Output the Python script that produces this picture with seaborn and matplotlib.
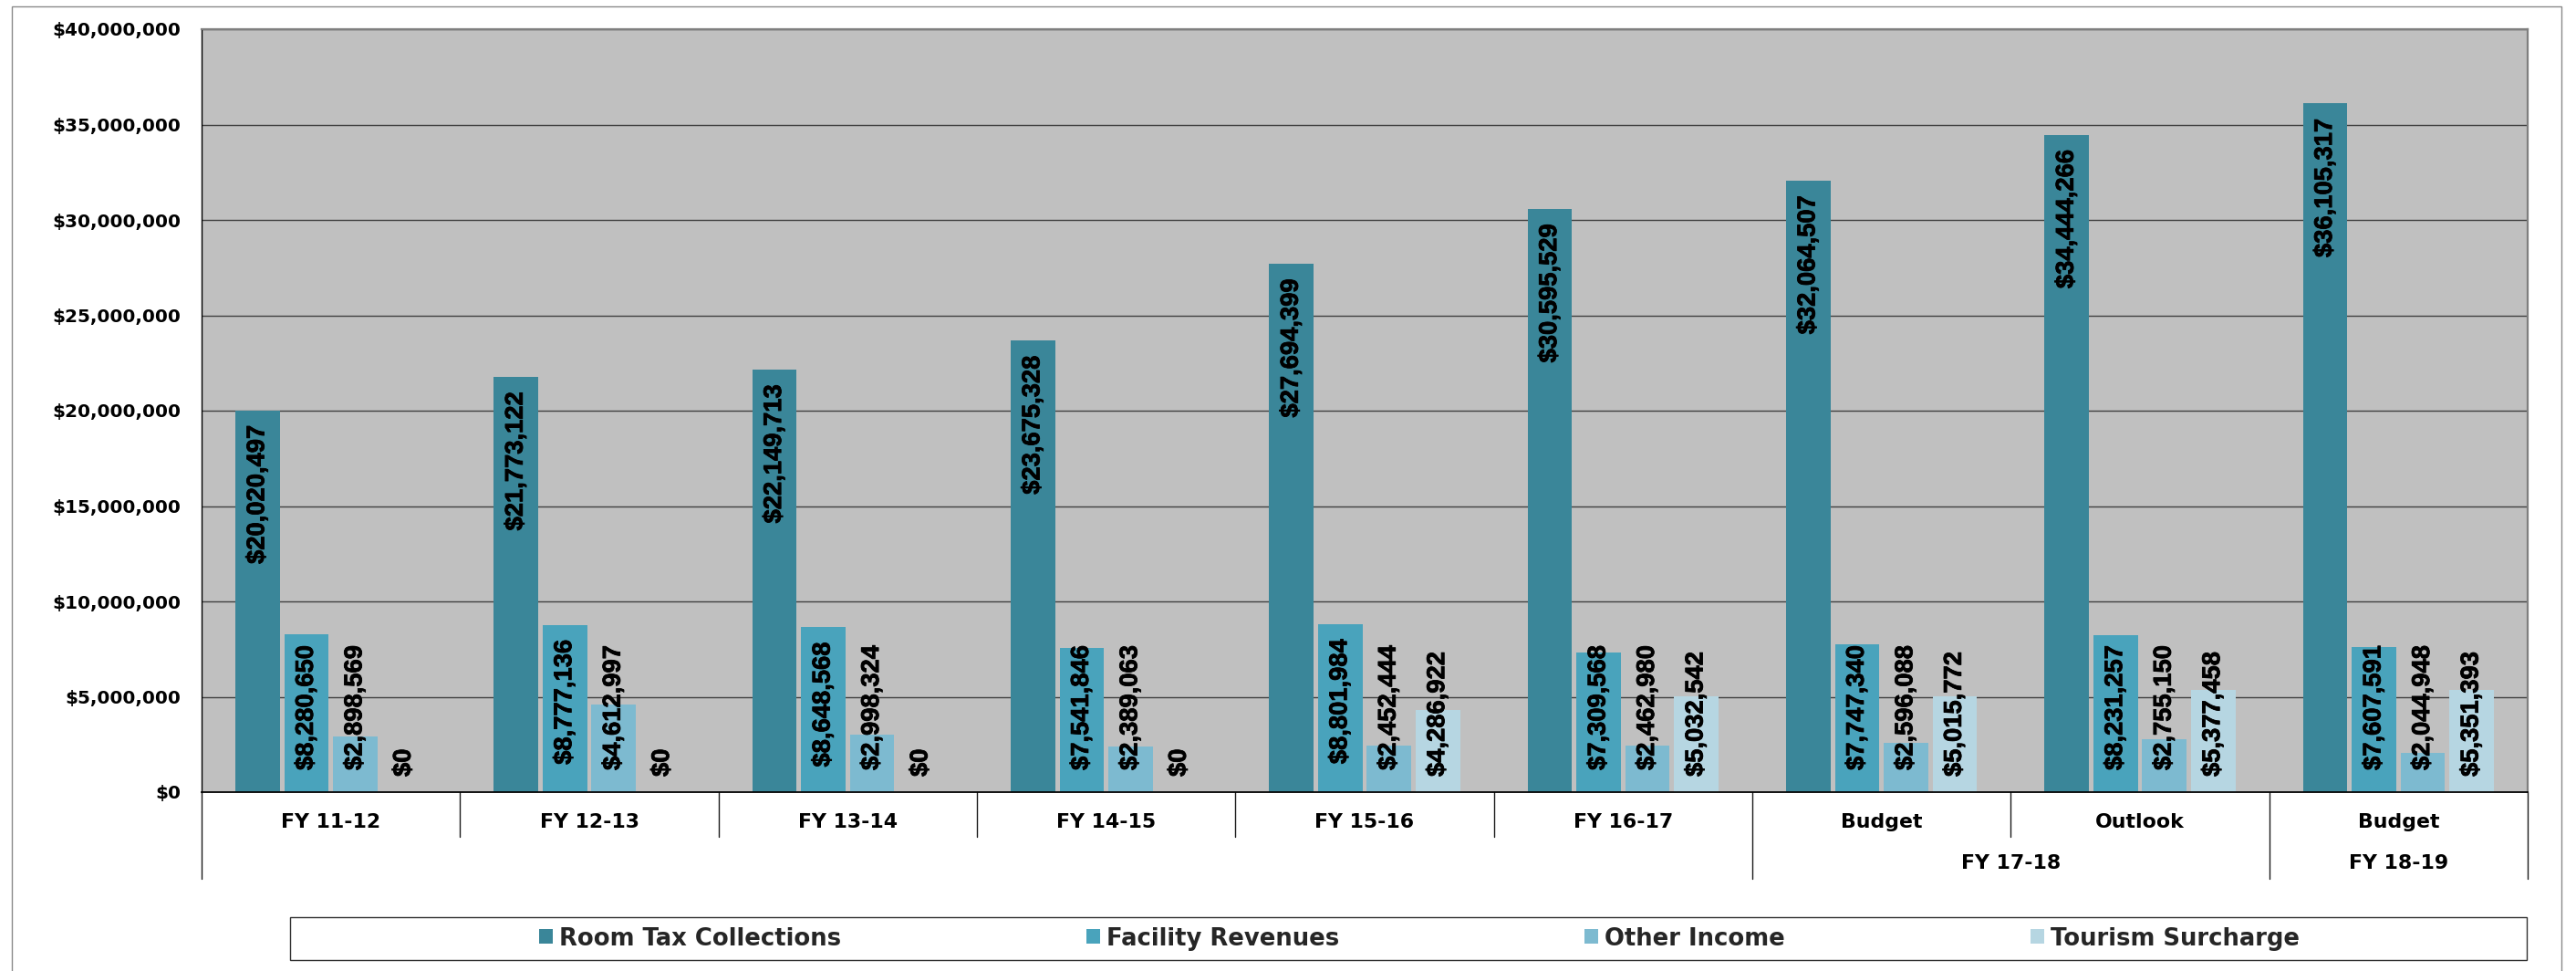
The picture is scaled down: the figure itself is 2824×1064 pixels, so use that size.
import matplotlib
matplotlib.use("Agg")
import matplotlib.pyplot as plt
import matplotlib.patheffects as pe
import seaborn as sns
import pandas as pd
from matplotlib.patches import Rectangle, Patch
from matplotlib.lines import Line2D
from matplotlib.ticker import FuncFormatter, MultipleLocator

# ---- data -------------------------------------------------------------
periods = ["FY 11-12", "FY 12-13", "FY 13-14", "FY 14-15", "FY 15-16",
           "FY 16-17", "FY 17-18 Budget", "FY 17-18 Outlook", "FY 18-19 Budget"]
period_labels = ["FY 11-12", "FY 12-13", "FY 13-14", "FY 14-15", "FY 15-16",
                 "FY 16-17", "Budget", "Outlook", "Budget"]
fiscal_year_labels = ["FY 17-18", "FY 18-19"]
fiscal_year_members = [["FY 17-18 Budget", "FY 17-18 Outlook"], ["FY 18-19 Budget"]]

series = ["Room Tax Collections", "Facility Revenues", "Other Income", "Tourism Surcharge"]
room_tax = [20020497, 21773122, 22149713, 23675328, 27694399,
            30595529, 32064507, 34444266, 36105317]
facility_revenues = [8280650, 8777136, 8648568, 7541846, 8801984,
                     7309568, 7747340, 8231257, 7607591]
other_income = [2898569, 4612997, 2998324, 2389063, 2452444,
                2462980, 2596088, 2755150, 2044948]
tourism_surcharge = [0, 0, 0, 0, 4286922, 5032542, 5015772, 5377458, 5351393]
series_values = [room_tax, facility_revenues, other_income, tourism_surcharge]

colors = ["#3A8699", "#49A3BC", "#7DBAD0", "#B6D6E2"]

df = pd.DataFrame({
    "period": periods * len(series),
    "source": [s for s in series for _ in periods],
    "amount": [v for vals in series_values for v in vals],
})

# ---- style ------------------------------------------------------------
sns.set_style("white")
plt.rcParams["font.family"] = ["DejaVu Sans"]
plt.rcParams["font.weight"] = "bold"

W, H = 2824, 1064
fig = plt.figure(figsize=(W / 100, H / 100), dpi=100)
fig.patch.set_facecolor("white")

# outer chart frame
fig.add_artist(Rectangle((13 / W, -0.02), (2808 - 13) / W, 1.02 - 7 / H,
                         transform=fig.transFigure, fill=False,
                         edgecolor="#8a8a8a", linewidth=1.0))

ax = fig.add_axes([221 / W, 1 - 868 / H, (2771 - 221) / W, 836 / H])

sns.barplot(data=df, x="period", y="amount", hue="source",
            order=periods, hue_order=series, palette=colors,
            width=0.755, gap=0.09, saturation=1, linewidth=0,
            errorbar=None, legend=False, ax=ax)

ax.set_facecolor("#C0C0C0")
ax.set_xlim(-0.5, len(periods) - 0.5)
ax.set_ylim(0, 40_000_000)
ax.yaxis.set_major_locator(MultipleLocator(5_000_000))
ax.yaxis.set_major_formatter(FuncFormatter(lambda v, p: f"${v:,.0f}"))
ax.set_axisbelow(True)
ax.yaxis.grid(True, color="#404040", linewidth=1.0)
ax.xaxis.grid(False)
ax.set_xlabel("")
ax.set_ylabel("")

ax.set_xticks(range(len(periods)))
ax.set_xticklabels(period_labels)
ax.tick_params(axis="x", length=0, pad=16.5, labelsize=15.8, labelcolor="black")
ax.tick_params(axis="y", length=5.8, width=1.0, direction="out", pad=10.5,
               labelsize=14.4, labelcolor="black", color="black")
for lbl in ax.get_xticklabels() + ax.get_yticklabels():
    lbl.set_fontweight("bold")

for side, col, lw in [("left", "black", 1.0), ("bottom", "black", 1.3),
                      ("top", "#7f7f7f", 1.6), ("right", "#7f7f7f", 1.6)]:
    ax.spines[side].set_visible(True)
    ax.spines[side].set_color(col)
    ax.spines[side].set_linewidth(lw)

# ---- two-level category axis -------------------------------------------
trans = ax.get_xaxis_transform()
short_depth = 49 / 836
long_depth = 95 / 836
long_bounds = {-0.5, len(periods) - 0.5}
for members in fiscal_year_members:
    idx = [periods.index(m) for m in members]
    long_bounds.update({min(idx) - 0.5, max(idx) + 0.5})
for i in range(len(periods) + 1):
    b = i - 0.5
    depth = long_depth if b in long_bounds else short_depth
    ax.add_line(Line2D([b, b], [0, -depth], transform=trans, clip_on=False,
                       color="#1a1a1a", linewidth=1.0))

for label, members in zip(fiscal_year_labels, fiscal_year_members):
    idx = [periods.index(m) for m in members]
    ax.text(sum(idx) / len(idx), -68 / 836, label, transform=trans,
            ha="center", va="top", fontsize=15.8, fontweight="bold", color="black")

# ---- legend -------------------------------------------------------------
fig.add_artist(Rectangle((318 / W, 1 - 1052 / H), (2770 - 318) / W, 47 / H,
                         transform=fig.transFigure, fill=False,
                         edgecolor="#303030", linewidth=1.0))
handles = [Patch(facecolor=c, edgecolor="none") for c in colors]
fig.legend(handles=handles, labels=series, loc="center",
           bbox_to_anchor=(1556 / W, 1 - 1028.5 / H), ncol=4, frameon=False,
           fontsize=18.6, handlelength=0.58, handleheight=0.58,
           handletextpad=0.28, columnspacing=10.4, borderaxespad=0, borderpad=0)

# ---- value labels (inside end, kept clear of the baseline) --------------
fig.canvas.draw()
renderer = fig.canvas.get_renderer()
base_px = ax.transData.transform((0, 0))[1]
clearance = {"Facility Revenues": 24, "Other Income": 24, "Tourism Surcharge": 17}
heavy = [pe.withStroke(linewidth=0.6, foreground="black")]

for container, values, name in zip(ax.containers, series_values, series):
    for bar, v in zip(container.patches, values):
        x = bar.get_x() + bar.get_width() / 2
        ann = ax.annotate(f"${v:,.0f}", xy=(x, v), xytext=(0, -16),
                          textcoords="offset pixels", rotation=90,
                          ha="center", va="top", fontsize=19.7,
                          fontfamily="Liberation Sans", fontweight="bold",
                          color="black", annotation_clip=False,
                          path_effects=heavy)
        if name in clearance:
            bb = ann.get_window_extent(renderer)
            if bb.y0 < base_px + clearance[name]:
                ann.xy = (x, 0)
                ann.xyann = (0, clearance[name])
                ann.set_va("bottom")

fig.savefig("out.png", dpi=100)
